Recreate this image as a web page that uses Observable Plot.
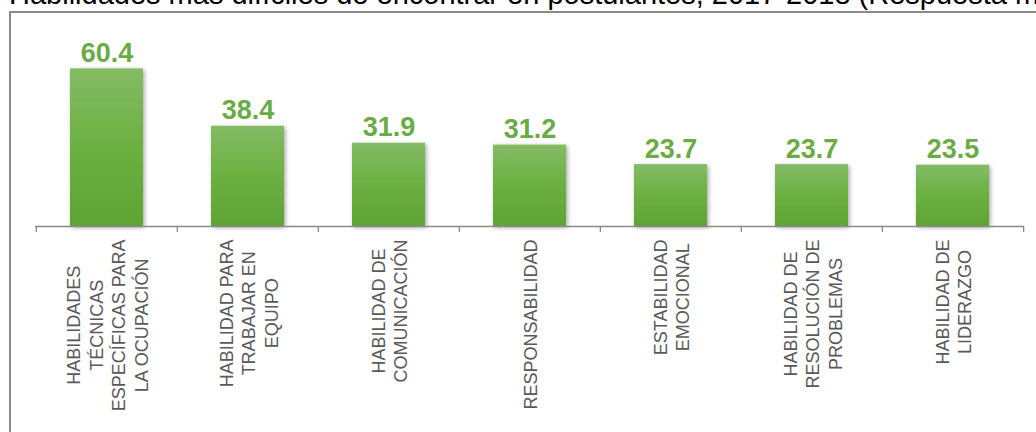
<!DOCTYPE html>
<html>
<head>
<meta charset="utf-8">
<script src="https://cdn.jsdelivr.net/npm/d3@7"></script>
<script src="https://cdn.jsdelivr.net/npm/@observablehq/plot@0.6"></script>
<style>
  html, body { margin: 0; padding: 0; background: #fff; overflow: hidden; }
  #wrap { position: relative; width: 1036px; height: 432px; overflow: hidden; }
  #title { position: absolute; left: 9px; top: -26px; white-space: nowrap;
           font: 29px "Liberation Sans", Arial, sans-serif; color: #000; line-height: 40px; }
  #frame { position: absolute; left: 9px; top: 11px; width: 1200px; height: 600px;
           border-left: 2px solid #8a8a8a; border-top: 2px solid #8a8a8a; pointer-events: none; }
  #chart { position: absolute; left: 0; top: 0; }
</style>
</head>
<body>
<div id="wrap">
  <div id="chart"></div>
  <div id="title">Habilidades más difíciles de encontrar en postulantes, 2017-2018 (Respuesta múltiple)</div>
  <div id="frame"></div>
</div>
<script>
const categories = [
  "HABILIDADES\nTÉCNICAS\nESPECÍFICAS PARA\nLA OCUPACIÓN",
  "HABILIDAD PARA\nTRABAJAR EN\nEQUIPO",
  "HABILIDAD DE\nCOMUNICACIÓN",
  "RESPONSABILIDAD",
  "ESTABILIDAD\nEMOCIONAL",
  "HABILIDAD DE\nRESOLUCIÓN DE\nPROBLEMAS",
  "HABILIDAD DE\nLIDERAZGO"
];
const values = [60.4, 38.4, 31.9, 31.2, 23.7, 23.7, 23.5];

const W = 1036, H = 432;
const mLeft = 35, mRight = 12;
const baseY = 226, pxPerUnit = 2.61;
const step = (W - mLeft - mRight) / categories.length;
const labelFont = 18;
const tickLen = 6;
const labelGap = 13;

const data = categories.map((c, i) => ({cat: c, value: values[i]}));

// measure longest line of each category label
const ctx = document.createElement("canvas").getContext("2d");
ctx.font = `${labelFont}px "Liberation Sans", Arial, sans-serif`;
const maxLine = c => d3.max(c.split("\n"), s => ctx.measureText(s).width);

const plot = Plot.plot({
  width: W,
  height: H,
  marginLeft: mLeft,
  marginRight: mRight,
  style: {background: "transparent", fontFamily: "'Liberation Sans', Arial, sans-serif", overflow: "visible"},
  x: {domain: categories, paddingInner: 0.48, paddingOuter: 0.24, axis: null},
  y: {domain: [0, 70], range: [baseY, baseY - 70 * pxPerUnit], axis: null},
  marks: [
    Plot.barY(data, {x: "cat", y: "value", fill: "url(#barGrad)"}),
    Plot.ruleY([0], {stroke: "#8a8a8a", strokeWidth: 1.3}),
    Plot.ruleX(data, {x: "cat", y1: 0, y2: -tickLen / pxPerUnit, dx: -step / 2, stroke: "#8a8a8a", strokeWidth: 1.3}),
    Plot.ruleX(data.slice(-1), {x: "cat", y1: 0, y2: -tickLen / pxPerUnit, dx: step / 2, stroke: "#8a8a8a", strokeWidth: 1.3}),
    Plot.text(data, {
      x: "cat", y: "value", text: d => d.value.toFixed(1),
      lineAnchor: "bottom", dy: -7,
      fontSize: 27, fontWeight: "bold", fill: "#6aab46"
    }),
    Plot.text(data, {
      x: "cat",
      y: d => -(labelGap + maxLine(d.cat) / 2) / pxPerUnit,
      text: "cat",
      rotate: -90, textAnchor: "middle", lineAnchor: "middle",
      lineHeight: 1.25, fontSize: labelFont, fill: "#595959"
    })
  ]
});

// gradient + shadow defs
const ns = "http://www.w3.org/2000/svg";
const defs = document.createElementNS(ns, "defs");
defs.innerHTML = `
  <linearGradient id="barGrad" x1="0" y1="0" x2="0" y2="1">
    <stop offset="0" stop-color="#84bb65"/>
    <stop offset="0.5" stop-color="#6cb041"/>
    <stop offset="1" stop-color="#5ea434"/>
  </linearGradient>
  <filter id="shadow" x="-20%" y="-20%" width="140%" height="140%">
    <feDropShadow dx="1.5" dy="1.5" stdDeviation="2" flood-color="#000" flood-opacity="0.35"/>
  </filter>`;
plot.insertBefore(defs, plot.firstChild);
const barG = plot.querySelector('g[aria-label="bar"]');
if (barG) barG.setAttribute("filter", "url(#shadow)");

document.getElementById("chart").appendChild(plot);
</script>
</body>
</html>
